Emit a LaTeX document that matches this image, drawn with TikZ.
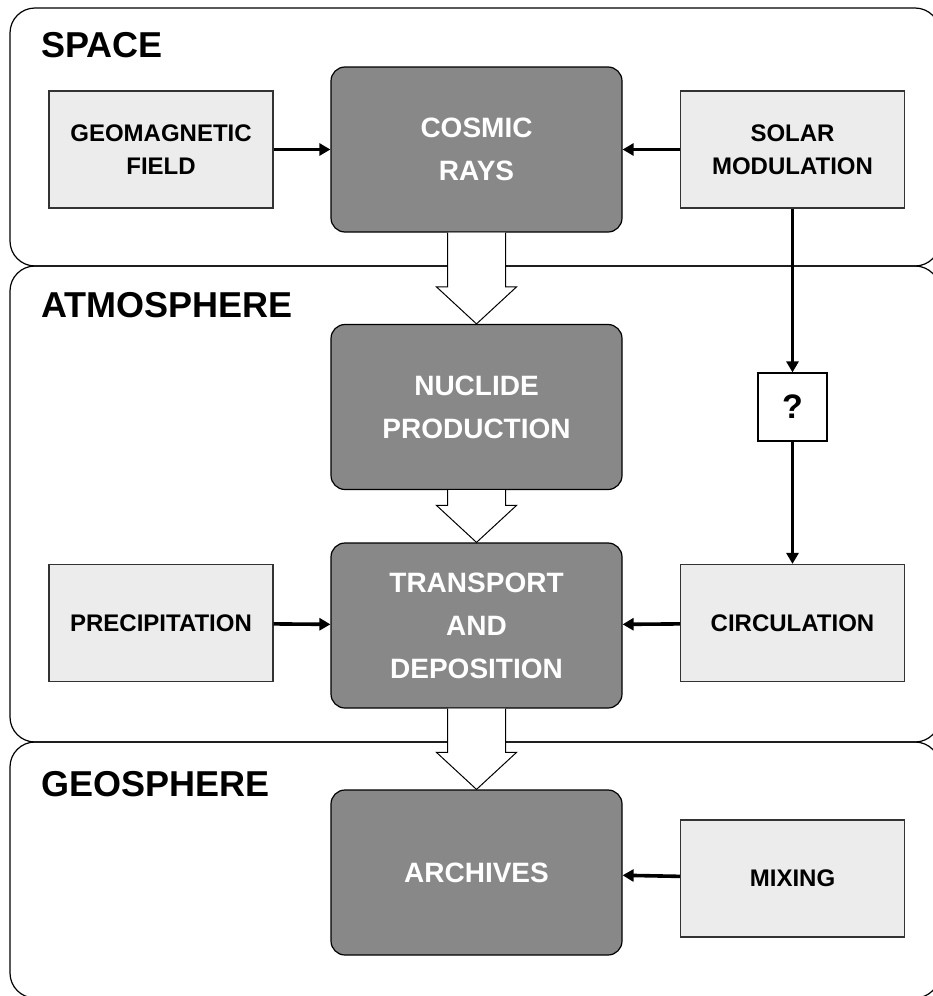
\documentclass[tikz,border=0pt]{standalone}
\usepackage{fontspec}
\setmainfont{Liberation Sans}
\usetikzlibrary{arrows.meta, calc}
\definecolor{procgray}{RGB}{136,136,136}
\definecolor{factorgray}{RGB}{236,236,236}

% hollow arrow from one process box down to the next
\newcommand{\flowarrow}[2]{%
  \draw[line width=1pt, fill=white] let \p1=(#1.south), \p2=(#2.north) in
    (\x1-29pt,\y1) -- (\x1-29pt,\y2+37pt) -- (\x1-40pt,\y2+37pt) -- (\x1,\y2)
    -- (\x1+40pt,\y2+37pt) -- (\x1+29pt,\y2+37pt) -- (\x1+29pt,\y1);}

\begin{document}
\begin{tikzpicture}[x=1pt, y=-1pt,
  region/.style={draw, line width=1.2pt, rounded corners=25pt},
  process/.style={draw, line width=1.2pt, rounded corners=14pt, fill=procgray, text=white,
    minimum width=291pt, minimum height=165pt, align=center,
    font=\fontsize{28}{43}\selectfont\bfseries},
  factor/.style={draw=black!80, line width=1.2pt, fill=factorgray,
    minimum width=224pt, minimum height=117pt, align=center,
    font=\fontsize{24}{33}\selectfont\bfseries},
  feed/.style={line width=3.6pt, -{Triangle[length=11pt, width=12pt]}},
  title/.style={anchor=base west, font=\fontsize{36}{36}\selectfont\bfseries}]
  \clip (0,0) rectangle (933,996);

  % the three spheres
  \draw[region] (10,8) rectangle (940,266);
  \draw[region] (10,266) rectangle (940,742);
  \draw[region] (10,742) rectangle (940,998);
  \node[title] (space) at (38,57) {SPACE};
  \node[title] (atmos) at (38,317) {ATMOSPHERE};
  \node[title] (geos) at (38,796) {GEOSPHERE};

  % main chain
  \node[process] (cosmic) at (476.5,149.5) {COSMIC\\RAYS};
  \node[process] (nuclide) at (476.5,407) {NUCLIDE\\PRODUCTION};
  \node[process] (transport) at (476.5,625.5) {TRANSPORT\\AND\\DEPOSITION};
  \node[process] (archives) at (476.5,872.5) {ARCHIVES};

  % influencing factors
  \node[factor] (geomag) at (161,149.5) {GEOMAGNETIC\\FIELD};
  \node[factor] (solar) at (792.5,149.5) {SOLAR\\MODULATION};
  \node[factor] (precip) at (161,623) {PRECIPITATION};
  \node[factor] (circ) at (792.5,623) {CIRCULATION};
  \node[factor] (mixing) at (792.5,878.5) {MIXING};
  \node[draw, line width=1.2pt, fill=white, minimum width=69pt, minimum height=68pt,
    font=\fontsize{34}{34}\selectfont\bfseries] (unknown) at (792.5,407) {?};

  \flowarrow{cosmic}{nuclide}
  \flowarrow{nuclide}{transport}
  \flowarrow{transport}{archives}

  \draw[feed] (geomag) -- (cosmic);
  \draw[feed] (solar) -- (cosmic);
  \draw[feed] (solar) -- (unknown);
  \draw[feed] (unknown) -- (circ);
  \draw[feed] (precip) -- (transport);
  \draw[feed] (circ) -- (transport);
  \draw[feed] (mixing) -- (archives);
\end{tikzpicture}
\end{document}
